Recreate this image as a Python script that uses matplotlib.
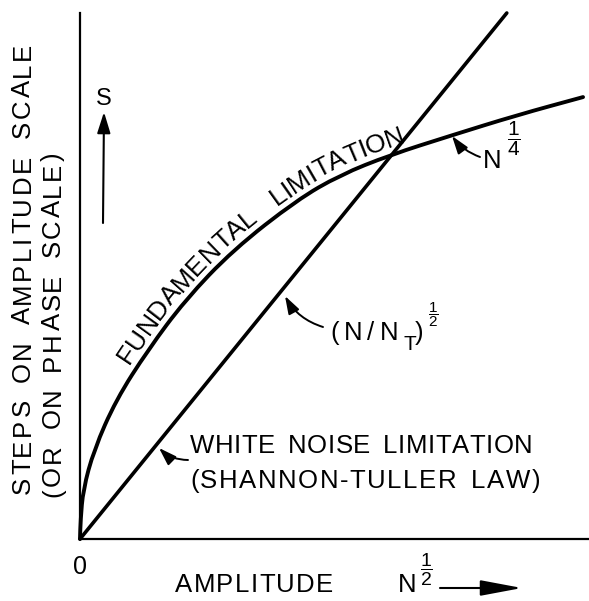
import numpy as np
import matplotlib
matplotlib.use('Agg')
import matplotlib.pyplot as plt
from matplotlib.path import Path
from matplotlib.patches import PathPatch
from matplotlib.transforms import IdentityTransform

plt.rcParams['font.family'] = ['Liberation Sans', 'DejaVu Sans']
plt.rcParams['mathtext.fontset'] = 'custom'
plt.rcParams['mathtext.rm'] = 'Liberation Sans'
plt.rcParams['mathtext.it'] = 'Liberation Sans'

# amplitude N^1/2 (scaled so the two laws cross at 1) and steps S
amp_fund = [0, 0.002, 0.010, 0.045, 0.116, 0.219, 0.339, 0.494, 0.700,
            0.839, 1.0, 1.194, 1.410, 1.623]
steps_fund = [0, 0.05, 0.128, 0.232, 0.362, 0.492, 0.622, 0.753, 0.883,
              0.948, 1.0, 1.05, 1.104, 1.151]
amp_white = [0, 1.377]
steps_white = [0, 1.37]

W, H = 589, 601
fig = plt.figure(figsize=(W / 100, H / 100), dpi=100)
ax = fig.add_axes([80 / W, 1 - 539 / H, (588 - 80) / W, (539 - 13) / H])
ax.set_xlim(0, 1.639)
ax.set_ylim(0, 1.37)
for s in ['top', 'right']:
    ax.spines[s].set_visible(False)
for s in ['left', 'bottom']:
    ax.spines[s].set_linewidth(1.6)
ax.set_xticks([])
ax.set_yticks([])

# hand drawn curve: quadratic bezier through the midpoints of the read points
p = np.column_stack([amp_fund, steps_fund])
verts = [p[0], (p[0] + p[1]) / 2]
codes = [Path.MOVETO, Path.LINETO]
for i in range(1, len(p) - 1):
    verts += [p[i], (p[i] + p[i + 1]) / 2]
    codes += [Path.CURVE3, Path.CURVE3]
verts.append(p[-1])
codes.append(Path.LINETO)
fund_path = Path(verts, codes)
ax.add_patch(PathPatch(fund_path, fill=False, edgecolor='black', lw=2.8,
                       clip_on=False, joinstyle='round', capstyle='round'))
ax.plot(amp_white, steps_white, color='black', lw=2.6, clip_on=False,
        solid_capstyle='round')

renderer = fig.canvas.get_renderer()


def fp(x, y):
    # image pixel (y down) -> figure fraction
    return (x / W, 1 - y / H)


def disp(x, y):
    return [x, H - y]


def lay_text(path, text, size, s0=None, s1=None, offset=0.0, word=0.45):
    # put the letters one by one along a path given in display pixels
    path = np.asarray(path, float)
    seg = np.diff(path, axis=0)
    d = np.concatenate([[0.0], np.cumsum(np.hypot(seg[:, 0], seg[:, 1]))])
    s0 = 0.0 if s0 is None else s0
    s1 = d[-1] if s1 is None else s1
    arts, widths = [], []
    for ch in text:
        if ch == ' ':
            arts.append(None)
            widths.append(word * size * 100 / 72)
            continue
        t = fig.text(0, 0, ch, fontsize=size, transform=IdentityTransform(),
                     ha='center', va='baseline', rotation_mode='anchor')
        widths.append(t.get_window_extent(renderer).width)
        arts.append(t)
    track = (s1 - s0 - sum(widths)) / max(len(text) - 1, 1)
    s = s0
    for t, w in zip(arts, widths):
        if t is not None:
            mid = s + w / 2
            pa = np.array([np.interp(mid - 10, d, path[:, 0]), np.interp(mid - 10, d, path[:, 1])])
            pb = np.array([np.interp(mid + 10, d, path[:, 0]), np.interp(mid + 10, d, path[:, 1])])
            u = (pb - pa) / np.hypot(*(pb - pa))
            pm = np.array([np.interp(mid, d, path[:, 0]), np.interp(mid, d, path[:, 1])])
            nrm = np.array([-u[1], u[0]])
            t.set_position(pm + nrm * offset)
            t.set_rotation(np.degrees(np.arctan2(u[1], u[0])))
        s += w + track


def arrow(p_from, p_to, rad=0.0, hl=0.7, hw=0.22, ms=18, lw=1.4):
    ax.annotate('', xy=fp(*p_to), xycoords='figure fraction',
                xytext=fp(*p_from), textcoords='figure fraction',
                arrowprops=dict(arrowstyle=f'-|>,head_length={hl},head_width={hw}',
                                color='black', lw=lw, shrinkA=0, shrinkB=0,
                                mutation_scale=ms,
                                connectionstyle=f'arc3,rad={rad}'))


# y axis label (two lines, reading upward)
lay_text([disp(30, 494), disp(30, 43)], 'STEPS ON AMPLITUDE SCALE', 18.5)
lay_text([disp(60, 497), disp(60, 152)], '(OR ON PHASE SCALE)', 18.5)

# S arrow
fig.text(*fp(104, 105), 'S', fontsize=17, ha='center', va='baseline')
arrow((103, 223), (104, 112), hl=0.8, hw=0.25, ms=16, lw=1.5)

# origin and x axis label
fig.text(*fp(80, 567), '0', fontsize=18, ha='center', va='center')
lay_text([disp(175, 592), disp(333, 592)], 'AMPLITUDE', 18.5)
fig.text(*fp(398, 592), 'N', fontsize=18.5, ha='left', va='baseline')
fig.text(*fp(426, 570), r'$\dfrac{1}{2}$', fontsize=14, ha='center', va='center')
arrow((440, 588), (522, 588), hl=1.6, hw=0.3, ms=16, lw=1.5)

# curved label along the fundamental limitation
poly = ax.transData.transform_path(fund_path).to_polygons(closed_only=False)[0]
seg = np.diff(poly, axis=0)
arc = np.concatenate([[0.0], np.cumsum(np.hypot(seg[:, 0], seg[:, 1]))])
xd = ax.transData.inverted().transform(poly)[:, 0]
lay_text(poly, 'FUNDAMENTAL LIMITATION', 19,
         s0=np.interp(0.18, xd, arc), s1=np.interp(1.06, xd, arc),
         offset=8, word=0.9)

# N^1/4
fig.text(*fp(483, 168), 'N', fontsize=18.5, ha='left', va='baseline')
fig.text(*fp(514, 139), r'$\dfrac{1}{4}$', fontsize=15, ha='center', va='center')
arrow((480, 157), (452, 136), rad=-0.15, hl=0.9, hw=0.3, ms=12, lw=1.4)

# (N/N_T)^1/2
lay_text([disp(330, 340), disp(398, 340)], '(N/N', 18.5)
fig.text(*fp(403, 350), 'T', fontsize=15, ha='left', va='baseline')
fig.text(*fp(415, 340), ')', fontsize=18.5, ha='left', va='baseline')
fig.text(*fp(433, 315), r'$\dfrac{1}{2}$', fontsize=11, ha='center', va='center')
arrow((323, 327), (285, 296), rad=-0.2, hl=0.9, hw=0.3, ms=12, lw=1.4)

# white noise limitation
lay_text([disp(190, 453), disp(533, 453)], 'WHITE NOISE LIMITATION', 18.5)
lay_text([disp(190, 488), disp(540, 488)], '(SHANNON-TULLER LAW)', 18.5)
arrow((188, 460), (159, 448), rad=-0.2, hl=0.9, hw=0.3, ms=12, lw=1.4)

fig.savefig('out.png', dpi=100)
